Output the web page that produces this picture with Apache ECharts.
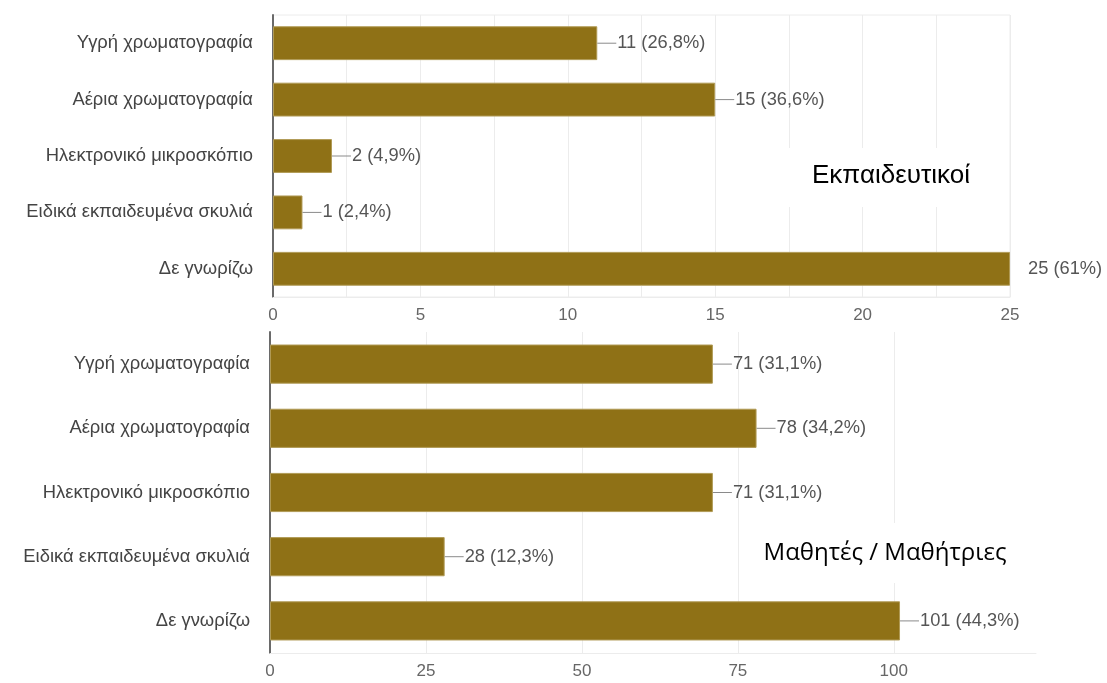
<!DOCTYPE html>
<html>
<head>
<meta charset="utf-8">
<style>
  html, body { margin: 0; padding: 0; background: #ffffff; }
  #chart { width: 1107px; height: 683px; }
</style>
<script src="https://cdn.jsdelivr.net/npm/echarts@6/dist/echarts.min.js"></script>
</head>
<body>
<div id="chart"></div>
<script>
// ---- data ----
const categories = [
  'Υγρή χρωματογραφία',
  'Αέρια χρωματογραφία',
  'Ηλεκτρονικό μικροσκόπιο',
  'Ειδικά εκπαιδευμένα σκυλιά',
  'Δε γνωρίζω'
];
const teacherValues = [11, 15, 2, 1, 25];
const teacherPercents = ['26,8%', '36,6%', '4,9%', '2,4%', '61%'];
const studentValues = [71, 78, 71, 28, 101];
const studentPercents = ['31,1%', '34,2%', '31,1%', '12,3%', '44,3%'];
const teacherTitle = 'Εκπαιδευτικοί';
const studentTitle = 'Μαθητές / Μαθήτριες';
const teacherAxisMax = 25;
const studentAxisMax = 122.8;

// ---- styles ----
const BAR = '#8f7116';
const GRID = '#ececec';
const FONT = '"Liberation Sans", Arial, sans-serif';

function makeLabel(percents, axisMax) {
  return {
    show: true,
    position: 'right',
    distance: 0,
    formatter: function (p) {
      const txt = p.value + ' (' + percents[p.dataIndex] + ')';
      if (p.value >= axisMax) return '{gap| }{t|' + txt + '}';
      return '{ln| }{t|' + txt + '}';
    },
    rich: {
      ln: { width: 19, height: 1, backgroundColor: '#8a8a8a', fontSize: 1 },
      gap: { width: 17, fontSize: 1 },
      t: { fontFamily: FONT, fontSize: 18.3, color: '#555555', padding: [0, 0, 0, 1] }
    }
  };
}

const chart = echarts.init(document.getElementById('chart'), null, { renderer: 'canvas' });

const catLabel = { fontFamily: FONT, fontSize: 18.4, color: '#444444', margin: 20 };
const tickLabel = { fontFamily: FONT, fontSize: 17, color: '#666666', margin: 10 };

const option = {
  backgroundColor: '#ffffff',
  animation: false,
  grid: [
    { left: 273, top: 15, width: 737, height: 282, show: true, borderColor: GRID, borderWidth: 1, backgroundColor: 'transparent' },
    { left: 270, top: 332, width: 766, height: 321 }
  ],
  xAxis: [
    {
      gridIndex: 0, type: 'value', min: 0, max: teacherAxisMax, interval: 5,
      axisLine: { show: true, lineStyle: { color: GRID } },
      axisTick: { show: false },
      axisLabel: tickLabel,
      splitLine: { show: true, lineStyle: { color: GRID } },
      minorTick: { show: false, splitNumber: 2 },
      minorSplitLine: { show: true, lineStyle: { color: GRID } }
    },
    {
      gridIndex: 1, type: 'value', min: 0, max: studentAxisMax, interval: 25,
      axisLine: { show: true, lineStyle: { color: GRID } },
      axisTick: { show: false },
      axisLabel: Object.assign({}, tickLabel, {
        formatter: function (v) { return v % 25 === 0 ? String(v) : ''; }
      }),
      splitLine: { show: true, showMaxLine: false, lineStyle: { color: GRID } }
    }
  ],
  yAxis: [
    {
      gridIndex: 0, type: 'category', data: categories, inverse: true,
      axisLine: { show: true, lineStyle: { color: '#6a6a6a', width: 2 } },
      axisTick: { show: false },
      axisLabel: catLabel
    },
    {
      gridIndex: 1, type: 'category', data: categories, inverse: true,
      axisLine: { show: true, lineStyle: { color: '#6a6a6a', width: 2 } },
      axisTick: { show: false },
      axisLabel: catLabel
    }
  ],
  series: [
    {
      type: 'bar', xAxisIndex: 0, yAxisIndex: 0, data: teacherValues,
      barWidth: '60%',
      itemStyle: { color: BAR, borderColor: '#b09a55', borderWidth: 1 },
      label: makeLabel(teacherPercents, teacherAxisMax),
      z: 3
    },
    {
      type: 'bar', xAxisIndex: 1, yAxisIndex: 1, data: studentValues,
      barWidth: '61%',
      itemStyle: { color: BAR, borderColor: '#b09a55', borderWidth: 1 },
      label: makeLabel(studentPercents, studentAxisMax),
      z: 3
    }
  ],
  graphic: [
    {
      type: 'rect', z: 1, silent: true,
      shape: { x: 786, y: 148, width: 220, height: 59 },
      style: { fill: '#ffffff' }
    },
    {
      type: 'text', z: 10, silent: true,
      x: 891, y: 176,
      style: {
        text: teacherTitle, fill: '#000000', fontFamily: FONT, fontSize: 26,
        align: 'center', verticalAlign: 'middle'
      }
    },
    {
      type: 'rect', z: 1, silent: true,
      shape: { x: 742, y: 523, width: 292, height: 60 },
      style: { fill: '#ffffff' }
    },
    {
      type: 'text', z: 10, silent: true,
      x: 885, y: 553,
      style: {
        text: studentTitle, fill: '#000000', fontFamily: '"Open Sans", "Noto Sans", sans-serif', fontSize: 24,
        align: 'center', verticalAlign: 'middle'
      }
    }
  ]
};

chart.setOption(option);
</script>
</body>
</html>
